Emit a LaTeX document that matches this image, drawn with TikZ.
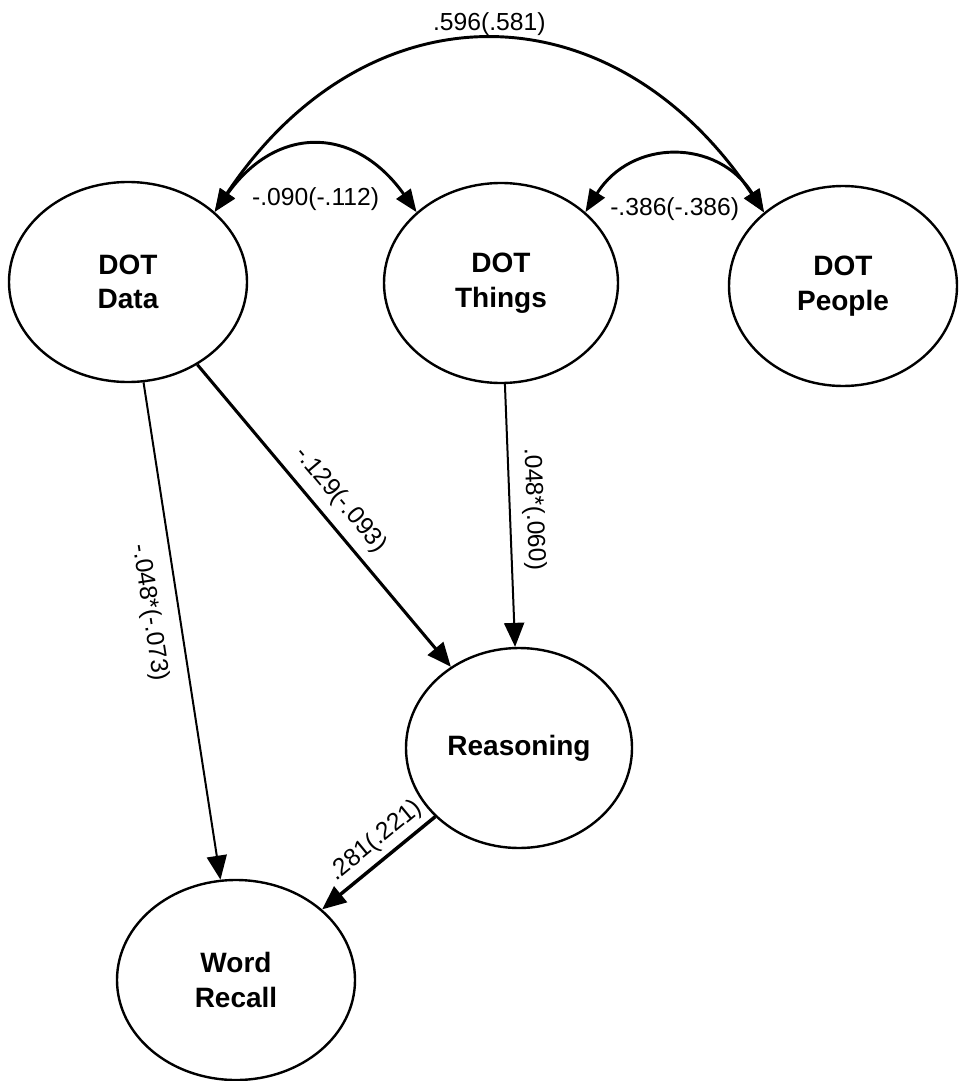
\documentclass[tikz,border=0pt]{standalone}
\usepackage{fontspec}
\setmainfont{Liberation Sans}
\usetikzlibrary{arrows.meta,shapes.geometric}
\begin{document}
\begin{tikzpicture}[x=0.75pt,y=0.75pt,
  latent/.style={ellipse,draw,line width=1.8pt,inner sep=0pt,minimum width=#1,minimum height=150pt,
    font=\fontsize{21}{26}\selectfont\bfseries,align=center},
  arr/.style={draw,-{Triangle[length=18pt,width=15pt]}},
  dblarr/.style={draw,line width=2.2pt,{Triangle[length=17pt,width=13pt]}-{Triangle[length=17pt,width=13pt]}},
  lbl/.style={font=\fontsize{18.5}{22}\selectfont}
]
\useasboundingbox (0,0) rectangle (958,-1081);

\node[latent=178.5pt] (data)   at (128,-282) {DOT\\Data};
\node[latent=175.5pt] (things) at (501,-283) {DOT\\Things};
\node[latent=171pt]   (people) at (843,-286) {DOT\\People};
\node[latent=169.5pt] (reason) at (519,-748) {Reasoning};
\node[latent=178.5pt] (wr)     at (236,-980) {Word\\Recall};

% covariances
\draw[dblarr] (data.39.5) .. controls +(152,228) and +(-152,228) .. node[lbl,above=0pt,pos=0.5]{.596(.581)} (people.137);
\draw[dblarr] (data.39.5) .. controls +(62,87) and +(-62,87) .. node[lbl,below=26pt,pos=0.5]{-.090(-.112)} (things.140);
\draw[dblarr] (things.40) .. controls +(46,74) and +(-46,74) .. node[lbl,below=26.5pt,pos=0.5]{-.386(-.386)} (people.137);

% regressions
\draw[arr,line width=1.5pt] (data) -- node[lbl,sloped,below=9pt,pos=0.454]{-.048*(-.073)} (wr);
\draw[arr,line width=2.3pt] (data) -- node[lbl,sloped,above=4pt,pos=0.496]{-.129(-.093)} (reason);
\draw[arr,line width=1.5pt] (things) -- node[lbl,sloped,above=5pt,pos=0.48]{.048*(.060)} (reason);
\draw[arr,line width=2.6pt] (reason) -- node[lbl,sloped,above=1pt,pos=0.42]{.281(.221)} (wr);
\end{tikzpicture}
\end{document}
